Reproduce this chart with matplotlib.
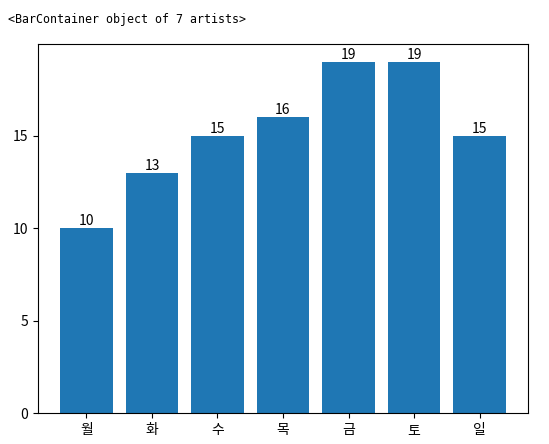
import matplotlib
matplotlib.use('Agg')
import matplotlib.pyplot as plt

plt.rcParams['font.family'] = ['Noto Sans CJK KR', 'DejaVu Sans']
plt.rcParams['axes.unicode_minus'] = False

days = ['월', '화', '수', '목', '금', '토', '일']
counts = [10, 13, 15, 16, 19, 19, 15]

fig = plt.figure(figsize=(5.49, 4.44), dpi=100)
ax = fig.add_axes([38/549, 31/444, 490/549, 369/444])
bars = ax.bar(days, counts)
ax.bar_label(bars)
ax.set_yticks([0, 5, 10, 15])

# jupyter output line above the plot
fig.text(8/549, 1 - 20/444, '<BarContainer object of 7 artists>',
         family='DejaVu Sans Mono', fontsize=8.4, va='center', ha='left')

fig.savefig('out.png', dpi=100)
